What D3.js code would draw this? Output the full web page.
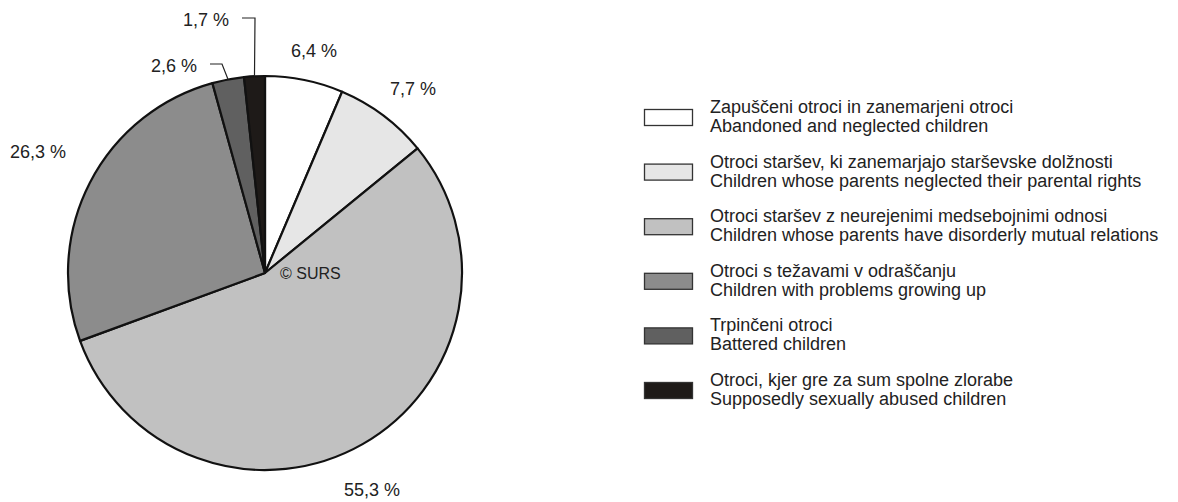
<!DOCTYPE html>
<html lang="en">
<head>
<meta charset="UTF-8">
<script src="https://d3js.org/d3.v7.min.js"></script>
<title>Chart</title>
<style>
  body { margin: 0; background: #fff; }
  svg { display: block; font-family: "Liberation Sans", Arial, sans-serif; }
</style>
</head>
<body>
<div id="chart"></div>
<script>
// slices, clockwise from 12 o'clock
const categories = [
  ["Zapuščeni otroci in zanemarjeni otroci", "Abandoned and neglected children"],
  ["Otroci staršev, ki zanemarjajo starševske dolžnosti", "Children whose parents neglected their parental rights"],
  ["Otroci staršev z neurejenimi medsebojnimi odnosi", "Children whose parents have disorderly mutual relations"],
  ["Otroci  s težavami v odraščanju", "Children with problems growing up"],
  ["Trpinčeni otroci", "Battered children"],
  ["Otroci, kjer gre za sum spolne zlorabe", "Supposedly sexually abused children"]
];
const values = [6.4, 7.7, 55.3, 26.3, 2.6, 1.7];
const labels = ["6,4 %", "7,7 %", "55,3 %", "26,3 %", "2,6 %", "1,7 %"];
const colors = ["#ffffff", "#e6e6e6", "#c1c1c1", "#8c8c8c", "#606060", "#1e1a18"];

const W = 1178, H = 502;
const cx = 265, cy = 273, R = 197;

const svg = d3.select("#chart").append("svg").attr("width", W).attr("height", H);

const pie = d3.pie().sort(null).value(d => d);
const arcs = pie(values);
const arc = d3.arc().innerRadius(0).outerRadius(R);

const g = svg.append("g").attr("transform", `translate(${cx},${cy})`);
g.selectAll("path").data(arcs).join("path")
  .attr("d", arc)
  .attr("fill", (d, i) => colors[i])
  .attr("stroke", "#111")
  .attr("stroke-width", 2.2)
  .attr("stroke-linejoin", "round");

svg.append("text").attr("x", 280).attr("y", 279)
  .attr("font-size", 16).attr("fill", "#222").text("© SURS");

// label positions (text centre x, baseline) and leader lines for the tiny slices
const labelPos = [[314, 57], [413, 95], [372, 496], [38, 158], [174, 72], [206, 26]];
svg.selectAll("text.lbl").data(arcs).join("text")
  .attr("class", "lbl")
  .attr("x", (d, i) => labelPos[i][0])
  .attr("y", (d, i) => labelPos[i][1])
  .attr("text-anchor", "middle")
  .attr("font-size", 18)
  .attr("fill", "#222")
  .text((d, i) => labels[i]);

const edgePt = d => {
  const a = (d.startAngle + d.endAngle) / 2;
  return [cx + Math.sin(a) * R, cy - Math.cos(a) * R];
};
const leaders = [[4, 210, 64, 222], [5, 242, 18, 255]];
leaders.forEach(([i, x0, y0, x1]) => {
  const p = edgePt(arcs[i]);
  svg.append("path")
    .attr("d", `M${x0},${y0}H${x1}L${p[0]},${p[1]}`)
    .attr("fill", "none").attr("stroke", "#222").attr("stroke-width", 1.2);
});

// legend
const lg = svg.append("g").attr("transform", "translate(644,108)");
const row = lg.selectAll("g").data(categories).join("g")
  .attr("transform", (d, i) => `translate(0,${i * 54.6})`);
row.append("rect").attr("x", 0.5).attr("y", 1.5).attr("width", 48).attr("height", 16)
  .attr("fill", (d, i) => colors[i]).attr("stroke", "#333").attr("stroke-width", 1.3);
row.append("text").attr("x", 66).attr("y", 5).attr("font-size", 18).attr("fill", "#222").text(d => d[0]);
row.append("text").attr("x", 66).attr("y", 24).attr("font-size", 18).attr("fill", "#222").text(d => d[1]);
</script>
</body>
</html>
